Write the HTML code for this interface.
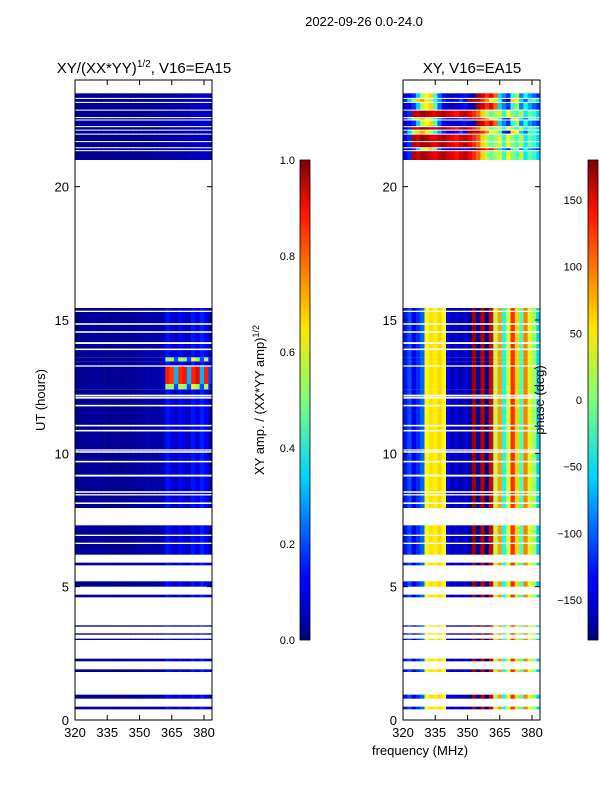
<!DOCTYPE html>
<html><head><meta charset="utf-8"><style>
body{margin:0;background:#fff;}
svg{display:block;font-family:"Liberation Sans",sans-serif;}
</style></head><body>
<svg id="fig" width="600" height="800" viewBox="0 0 600 800">
<defs>
<linearGradient id="jetg" x1="0" y1="1" x2="0" y2="0">
<stop offset="0" stop-color="#00007f"/><stop offset="0.11" stop-color="#0000ff"/><stop offset="0.125" stop-color="#0000ff"/>
<stop offset="0.34" stop-color="#00d4ff"/><stop offset="0.5" stop-color="#7dff7a"/><stop offset="0.65" stop-color="#ffe600"/>
<stop offset="0.89" stop-color="#ff1400"/><stop offset="1" stop-color="#7f0000"/>
</linearGradient>
</defs>
<text x="364" y="26" font-size="13" text-anchor="middle">2022-09-26 0.0-24.0</text>
<text x="144" y="73" font-size="15" text-anchor="middle">XY/(XX*YY)<tspan font-size="10" dy="-6">1/2</tspan><tspan dy="6">, V16=EA15</tspan></text>
<text x="472" y="73" font-size="15" text-anchor="middle">XY, V16=EA15</text>
<text transform="translate(45,400) rotate(-90)" font-size="13" text-anchor="middle">UT (hours)</text>
<text x="420" y="755" font-size="13" text-anchor="middle">frequency (MHz)</text>
<text transform="translate(264,400) rotate(-90)" font-size="13" text-anchor="middle">XY amp. / (XX*YY amp)<tspan font-size="9" dy="-5">1/2</tspan></text>
<g id="ampG"></g><g id="phG"></g><g id="axG"></g>
<text transform="translate(544,400) rotate(-90)" font-size="13" text-anchor="middle">phase (deg)</text>
</svg>
<script>
const NS="http://www.w3.org/2000/svg";
const freqStart=320, chanWidth=2;
const ampChan=[0.02,0.02,0.02,0.02,0.03,0.03,0.02,0.02,0.02,0.02,0.02,0.02,0.02,0.03,0.03,0.03,0.04,0.04,0.04,0.04,0.05,0.14,0.1,0.06,0.13,0.08,0.07,0.14,0.09,0.15,0.12,0.05];
const ampHot=[0.02,0.02,0.02,0.02,0.03,0.03,0.02,0.02,0.02,0.02,0.02,0.02,0.02,0.03,0.03,0.03,0.04,0.04,0.04,0.04,0.06,0.85,0.82,0.3,0.84,0.86,0.3,0.84,0.88,0.3,0.85,0.2];
const ampWarm=[0.02,0.02,0.02,0.02,0.03,0.03,0.02,0.02,0.02,0.02,0.02,0.02,0.02,0.03,0.03,0.03,0.04,0.04,0.04,0.04,0.06,0.5,0.55,0.2,0.55,0.5,0.2,0.6,0.52,0.2,0.55,0.15];
const ampTop=[0.02,0.02,0.02,0.02,0.02,0.02,0.02,0.02,0.02,0.02,0.02,0.02,0.02,0.02,0.02,0.02,0.02,0.02,0.03,0.03,0.03,0.04,0.04,0.04,0.05,0.05,0.05,0.06,0.06,0.07,0.08,0.06];
const phaseMain=[-130,-110,-140,-120,-100,40,55,50,60,45,-140,-160,-150,-165,-145,-170,170,-170,160,-175,150,20,80,-40,30,120,60,-20,90,30,10,-60];
const phaseTopA=[-140,-120,160,150,170,160,150,140,155,165,150,140,130,150,160,140,120,100,60,20,-10,10,30,-30,40,0,-20,20,-50,-10,-30,-60];
const phaseTopB=[-150,-140,-120,-60,20,40,60,-20,-100,-140,-150,-160,-150,-140,-130,-160,-170,170,150,120,140,100,-60,-90,-120,-30,10,-90,-40,-80,-100,-120];
const phaseTopC=[-120,-60,10,60,80,50,10,-40,-80,-120,-140,-150,-130,-110,-140,170,160,150,120,90,40,20,-20,-120,-140,60,40,-60,-100,-30,-20,-60];
const bands=[[0.4,0.5],[0.8,0.95],[1.8,1.9],[2.2,2.3],[3.0,3.05],[3.2,3.25],[3.5,3.55],[4.6,4.7],[5.0,5.2],[5.8,5.9],[6.2,6.6],[6.65,6.9],[6.95,7.3],
[7.95,8.1],[8.16,8.42],[8.47,8.52],[8.58,9.13],[9.2,9.66],[9.72,10.02],[10.08,10.1],[10.15,10.82],[10.88,11.01],[11.07,11.76],[11.82,12.05],[12.11,12.13],[12.2,12.4],[12.4,12.6],[12.6,13.25],[13.3,13.45],[13.45,13.6],[13.6,13.87],[13.93,14.1],[14.17,14.52],[14.58,14.82],[14.88,15.3],[15.35,15.45]];
const hotRed=[[12.6,13.25]];
const hotWarm=[[12.4,12.6],[13.45,13.6]];
const topBands=[[21.0,21.33],[21.37,21.44],[21.48,21.67],[21.71,21.95],[21.99,22.1],[22.14,22.23],[22.27,22.48],[22.52,22.57],[22.61,22.85],[22.89,23.14],[23.18,23.29],[23.33,23.5]];
const topProfile=["A","B","A","A","C","A","B","C","A","B","C","B"];
const yTicks=[0,5,10,15,20];
const xTicks=[320,335,350,365,380];
const ampTicks=["0.0","0.2","0.4","0.6","0.8","1.0"];
const phTicks=[-150,-100,-50,0,50,100,150];

const panels=[{x0:75,g:"ampG",name:"amp"},{x0:403,g:"phG",name:"phase"}];
const PW=137, Y0=720, Y1=80;
function yS(h){return Y0-(h/24)*(Y0-Y1);}
function xS(f,x0){return x0+(f-320)*(129/60);}
function jet(v){v=Math.max(0,Math.min(1,v));
 const r=Math.max(0,Math.min(1,1.5-Math.abs(4*v-3))),g=Math.max(0,Math.min(1,1.5-Math.abs(4*v-2))),b=Math.max(0,Math.min(1,1.5-Math.abs(4*v-1)));
 return `rgb(${Math.round(r*255)},${Math.round(g*255)},${Math.round(b*255)})`;}
function pc(p){return jet((p+180)/360);}
function rect(g,x,y,w,h,fill,name){const r=document.createElementNS(NS,"rect");r.setAttribute("x",x);r.setAttribute("y",y);r.setAttribute("width",w);r.setAttribute("height",h);r.setAttribute("fill",fill);
 
 
 g.appendChild(r);return r;}
function txt(g,x,y,s,anchor,name){const t=document.createElementNS(NS,"text");t.setAttribute("x",x);t.setAttribute("y",y);t.setAttribute("font-size","13");t.setAttribute("text-anchor",anchor);t.textContent=s;
 
 
 g.appendChild(t);}
function line(g,x1,y1,x2,y2,name){const l=document.createElementNS(NS,"line");l.setAttribute("x1",x1);l.setAttribute("y1",y1);l.setAttribute("x2",x2);l.setAttribute("y2",y2);l.setAttribute("stroke","#000");
 
 
 g.appendChild(l);}
function within(b,list){return list.some(h=>b[0]>=h[0]-0.001&&b[1]<=h[1]+0.001);}
panels.forEach((P,pi)=>{
 const g=document.getElementById(P.g);
 const cw=xS(freqStart+chanWidth,P.x0)-xS(freqStart,P.x0);
 const nC=ampChan.length;
 const draw=(b,vals,isAmp)=>{
  for(let c=0;c<nC;c++){const x=xS(freqStart+c*chanWidth,P.x0);const w=Math.min(cw+0.3,P.x0+PW-x);if(w<=0)continue;
   rect(g,x,yS(b[1]),w,yS(b[0])-yS(b[1]),isAmp?jet(vals[c]):pc(vals[c]),P.name+"-cell");}
 };
 bands.forEach(b=>{
  if(pi===0)draw(b,within(b,hotRed)?ampHot:within(b,hotWarm)?ampWarm:ampChan,true);
  else draw(b,phaseMain,false);
 });
 topBands.forEach((b,i)=>{
  if(pi===0)draw(b,ampTop,true);
  else{const p=topProfile[i]==="A"?phaseTopA:topProfile[i]==="B"?phaseTopB:phaseTopC;draw(b,p,false);}
 });
 const ax=document.getElementById("axG");
 const fr=rect(ax,P.x0,Y1,PW,Y0-Y1,"none",P.name+"-axes-frame");fr.setAttribute("stroke","#000");fr.setAttribute("stroke-width","1");
 yTicks.forEach(t=>{const y=yS(t);line(ax,P.x0,y,P.x0+5,y,"y-tick");line(ax,P.x0+PW,y,P.x0+PW-5,y,"y-tick");txt(ax,P.x0-6,y+5,String(t),"end","y-tick-label");});
 xTicks.forEach(t=>{const x=xS(t,P.x0);line(ax,x,Y0,x,Y0-5,"x-tick");line(ax,x,Y1,x,Y1+5,"x-tick");txt(ax,x,Y0+17,String(t),"middle","x-tick-label");});
});
const ax=document.getElementById("axG");
[[300,"amp"],[588,"phase"]].forEach(([cx,n])=>{const r=rect(ax,cx,160,10,480,"url(#jetg)",n+"-colorbar");r.setAttribute("stroke","#000");r.setAttribute("stroke-width","0.8");});
ampTicks.forEach((t,i)=>{const y=640-i*96;txt(ax,295,y+4,t,"end","amp-colorbar-tick");ax.lastChild.setAttribute("font-size","11");});
phTicks.forEach(t=>{const y=400-t*480/360;txt(ax,582,y+4,t<0?"\u2212"+(-t):String(t),"end","phase-colorbar-tick");ax.lastChild.setAttribute("font-size","11");});
</script>
</body></html>
